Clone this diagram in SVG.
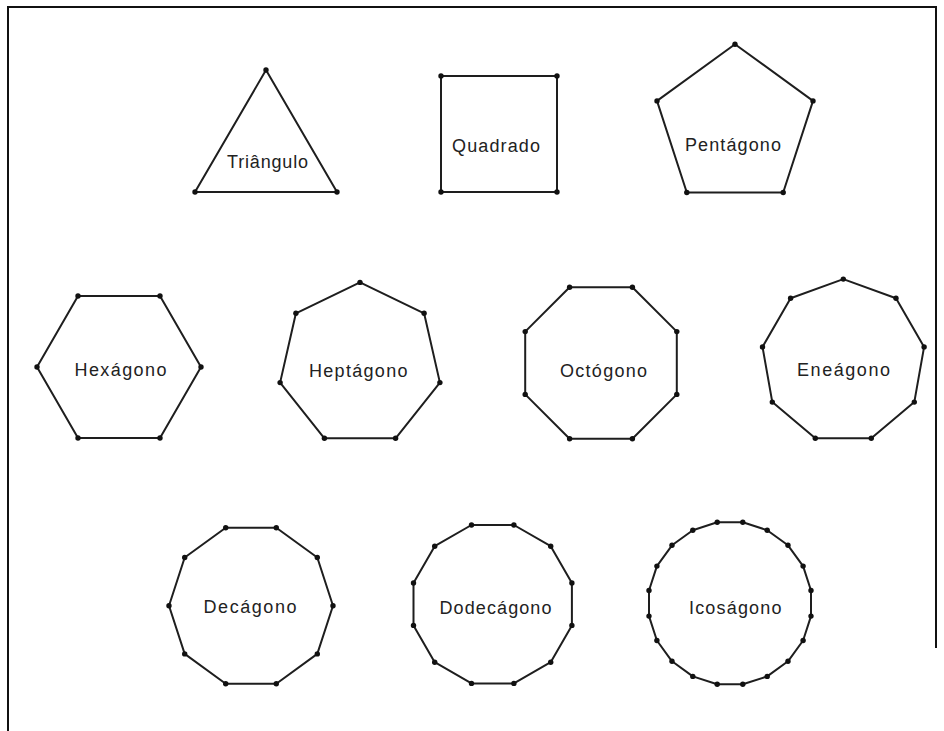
<svg xmlns="http://www.w3.org/2000/svg" width="944" height="731" viewBox="0 0 944 731">
<style>
.p{fill:none;stroke:#1e1e1e;stroke-width:2;stroke-linejoin:round}
.v{fill:#111}
.t{font-family:"Liberation Sans",Arial,sans-serif;font-size:18px;fill:#222}
.b{fill:none;stroke:#111;stroke-width:2}
</style>
<rect width="944" height="731" fill="#fff"/>
<path class="b" d="M8,731 V7 H936 V648"/>
<g id="triangulo">
<polygon class="p" points="266,70 337,192 195,192"/>
<circle class="v" cx="266" cy="70" r="2.7"/><circle class="v" cx="337" cy="192" r="2.7"/><circle class="v" cx="195" cy="192" r="2.7"/>
<text class="t" x="227" y="168" textLength="81" lengthAdjust="spacing">Triângulo</text>
</g>
<g id="quadrado">
<polygon class="p" points="441,76 557,76 557,192 441,192"/>
<circle class="v" cx="441" cy="76" r="2.7"/><circle class="v" cx="557" cy="76" r="2.7"/><circle class="v" cx="557" cy="192" r="2.7"/><circle class="v" cx="441" cy="192" r="2.7"/>
<text class="t" x="452" y="151.5" textLength="88" lengthAdjust="spacing">Quadrado</text>
</g>
<g id="pentagono">
<polygon class="p" points="735,44.2 813,100.9 783.2,192.5 686.8,192.5 657,100.9"/>
<circle class="v" cx="735" cy="44.2" r="2.7"/><circle class="v" cx="813" cy="100.9" r="2.7"/><circle class="v" cx="783.2" cy="192.5" r="2.7"/><circle class="v" cx="686.8" cy="192.5" r="2.7"/><circle class="v" cx="657" cy="100.9" r="2.7"/>
<text class="t" x="685" y="151" textLength="96" lengthAdjust="spacing">Pentágono</text>
</g>
<g id="hexagono">
<polygon class="p" points="37,367 78,296 160,296 201,367 160,438 78,438"/>
<circle class="v" cx="37" cy="367" r="2.7"/><circle class="v" cx="78" cy="296" r="2.7"/><circle class="v" cx="160" cy="296" r="2.7"/><circle class="v" cx="201" cy="367" r="2.7"/><circle class="v" cx="160" cy="438" r="2.7"/><circle class="v" cx="78" cy="438" r="2.7"/>
<text class="t" x="74.5" y="376" textLength="92" lengthAdjust="spacing">Hexágono</text>
</g>
<g id="heptagono">
<polygon class="p" points="360,282.4 424.1,313.3 439.9,382.6 395.6,438.3 324.4,438.3 280.1,382.6 295.9,313.3"/>
<circle class="v" cx="360" cy="282.4" r="2.7"/><circle class="v" cx="424.1" cy="313.3" r="2.7"/><circle class="v" cx="439.9" cy="382.6" r="2.7"/><circle class="v" cx="395.6" cy="438.3" r="2.7"/><circle class="v" cx="324.4" cy="438.3" r="2.7"/><circle class="v" cx="280.1" cy="382.6" r="2.7"/><circle class="v" cx="295.9" cy="313.3" r="2.7"/>
<text class="t" x="309" y="376.5" textLength="98.5" lengthAdjust="spacing">Heptágono</text>
</g>
<g id="octogono">
<polygon class="p" points="632.4,287.2 676.8,331.6 676.8,394.4 632.4,438.8 569.6,438.8 525.2,394.4 525.2,331.6 569.6,287.2"/>
<circle class="v" cx="632.4" cy="287.2" r="2.7"/><circle class="v" cx="676.8" cy="331.6" r="2.7"/><circle class="v" cx="676.8" cy="394.4" r="2.7"/><circle class="v" cx="632.4" cy="438.8" r="2.7"/><circle class="v" cx="569.6" cy="438.8" r="2.7"/><circle class="v" cx="525.2" cy="394.4" r="2.7"/><circle class="v" cx="525.2" cy="331.6" r="2.7"/><circle class="v" cx="569.6" cy="287.2" r="2.7"/>
<text class="t" x="560" y="376.5" textLength="87" lengthAdjust="spacing">Octógono</text>
</g>
<g id="eneagono">
<polygon class="p" points="843.3,279.1 896,298.3 924.1,346.9 914.3,402.1 871.3,438.2 815.3,438.2 772.3,402.1 762.5,346.9 790.6,298.3"/>
<circle class="v" cx="843.3" cy="279.1" r="2.7"/><circle class="v" cx="896" cy="298.3" r="2.7"/><circle class="v" cx="924.1" cy="346.9" r="2.7"/><circle class="v" cx="914.3" cy="402.1" r="2.7"/><circle class="v" cx="871.3" cy="438.2" r="2.7"/><circle class="v" cx="815.3" cy="438.2" r="2.7"/><circle class="v" cx="772.3" cy="402.1" r="2.7"/><circle class="v" cx="762.5" cy="346.9" r="2.7"/><circle class="v" cx="790.6" cy="298.3" r="2.7"/>
<text class="t" x="797" y="376" textLength="93" lengthAdjust="spacing">Eneágono</text>
</g>
<g id="decagono">
<polygon class="p" points="333,605.7 317.3,557.5 276.3,527.7 225.7,527.7 184.7,557.5 169,605.7 184.7,653.9 225.7,683.7 276.3,683.7 317.3,653.9"/>
<circle class="v" cx="333" cy="605.7" r="2.7"/><circle class="v" cx="317.3" cy="557.5" r="2.7"/><circle class="v" cx="276.3" cy="527.7" r="2.7"/><circle class="v" cx="225.7" cy="527.7" r="2.7"/><circle class="v" cx="184.7" cy="557.5" r="2.7"/><circle class="v" cx="169" cy="605.7" r="2.7"/><circle class="v" cx="184.7" cy="653.9" r="2.7"/><circle class="v" cx="225.7" cy="683.7" r="2.7"/><circle class="v" cx="276.3" cy="683.7" r="2.7"/><circle class="v" cx="317.3" cy="653.9" r="2.7"/>
<text class="t" x="203.5" y="613" textLength="93" lengthAdjust="spacing">Decágono</text>
</g>
<g id="dodecagono">
<polygon class="p" points="571.9,583 550.7,546.2 513.9,525 471.5,525 434.7,546.2 413.5,583 413.5,625.4 434.7,662.2 471.5,683.4 513.9,683.4 550.7,662.2 571.9,625.4"/>
<circle class="v" cx="571.9" cy="583" r="2.7"/><circle class="v" cx="550.7" cy="546.2" r="2.7"/><circle class="v" cx="513.9" cy="525" r="2.7"/><circle class="v" cx="471.5" cy="525" r="2.7"/><circle class="v" cx="434.7" cy="546.2" r="2.7"/><circle class="v" cx="413.5" cy="583" r="2.7"/><circle class="v" cx="413.5" cy="625.4" r="2.7"/><circle class="v" cx="434.7" cy="662.2" r="2.7"/><circle class="v" cx="471.5" cy="683.4" r="2.7"/><circle class="v" cx="513.9" cy="683.4" r="2.7"/><circle class="v" cx="550.7" cy="662.2" r="2.7"/><circle class="v" cx="571.9" cy="625.4" r="2.7"/>
<text class="t" x="439.5" y="614" textLength="112" lengthAdjust="spacing">Dodecágono</text>
</g>
<g id="icosagono">
<polygon class="p" points="811,590.5 803.1,566.1 788,545.3 767.2,530.2 742.8,522.3 717.2,522.3 692.8,530.2 672,545.3 656.9,566.1 649,590.5 649,616.1 656.9,640.5 672,661.3 692.8,676.4 717.2,684.3 742.8,684.3 767.2,676.4 788,661.3 803.1,640.5 811,616.1"/>
<g class="v">
<circle cx="811" cy="590.5" r="2.7"/><circle cx="803.1" cy="566.1" r="2.7"/><circle cx="788" cy="545.3" r="2.7"/><circle cx="767.2" cy="530.2" r="2.7"/><circle cx="742.8" cy="522.3" r="2.7"/><circle cx="717.2" cy="522.3" r="2.7"/><circle cx="692.8" cy="530.2" r="2.7"/><circle cx="672" cy="545.3" r="2.7"/><circle cx="656.9" cy="566.1" r="2.7"/><circle cx="649" cy="590.5" r="2.7"/><circle cx="649" cy="616.1" r="2.7"/><circle cx="656.9" cy="640.5" r="2.7"/><circle cx="672" cy="661.3" r="2.7"/><circle cx="692.8" cy="676.4" r="2.7"/><circle cx="717.2" cy="684.3" r="2.7"/><circle cx="742.8" cy="684.3" r="2.7"/><circle cx="767.2" cy="676.4" r="2.7"/><circle cx="788" cy="661.3" r="2.7"/><circle cx="803.1" cy="640.5" r="2.7"/><circle cx="811" cy="616.1" r="2.7"/>
</g>
<text class="t" x="689" y="614" textLength="92.5" lengthAdjust="spacing">Icoságono</text>
</g>
<g id="connectors"/>
</svg>
